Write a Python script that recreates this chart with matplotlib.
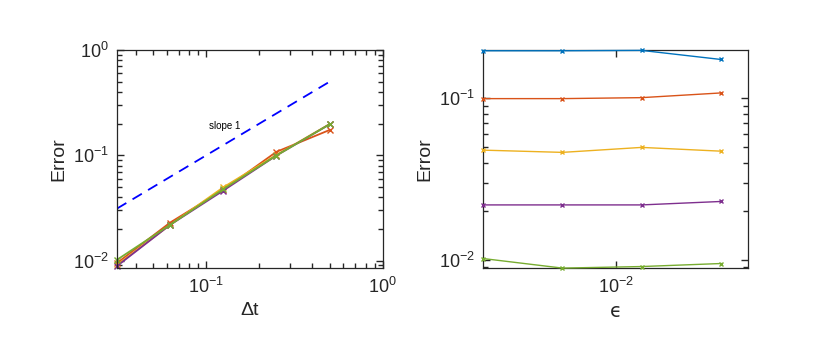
import numpy as np
import matplotlib
matplotlib.use("Agg")
from matplotlib import pyplot as plt

plt.rcParams['font.family'] = ['Liberation Sans', 'DejaVu Sans']
plt.rcParams['mathtext.fontset'] = 'custom'
plt.rcParams['mathtext.rm'] = 'Liberation Sans'
plt.rcParams['mathtext.it'] = 'Liberation Sans:italic'
plt.rcParams['mathtext.default'] = 'regular'
plt.rcParams['xtick.minor.visible'] = True
plt.rcParams['ytick.minor.visible'] = True
plt.rcParams['xtick.minor.size'] = 3.5
plt.rcParams['ytick.minor.size'] = 3.5
plt.rcParams['xtick.minor.width'] = 1.0
plt.rcParams['ytick.minor.width'] = 1.0

# data
dt = [1/2, 1/4, 1/8, 1/16, 1/32]
eps = [0.003125, 0.00625, 0.0125, 0.025]
# rows: dt, columns: eps
err = np.array([
    [0.197, 0.197, 0.198, 0.174],
    [0.0996, 0.0996, 0.101, 0.108],
    [0.0478, 0.0463, 0.0497, 0.0471],
    [0.0219, 0.0219, 0.0219, 0.0230],
    [0.0102, 0.0089, 0.0091, 0.0095],
])
slope_x = [1/32, 1/2]

colors = ['#0072BD', '#D95319', '#EDB120', '#7E2F8E', '#77AC30']
axcol = '#262626'


def minor_locs(lo, hi):
    locs = [k * 10.0**e for e in range(-4, 1) for k in range(2, 10)]
    return [v for v in locs if lo <= v <= hi]


def style(ax):
    ax.tick_params(which='both', direction='in', top=True, right=True,
                   colors=axcol, labelsize=13, pad=6)
    ax.tick_params(which='major', length=5, width=1.0)
    ax.tick_params(which='minor', length=3.5, width=1.0)
    for s in ax.spines.values():
        s.set_color(axcol)
        s.set_linewidth(0.9)


fig = plt.figure(figsize=(8.3, 3.5), dpi=100)
ax1 = fig.add_axes([0.141, 0.234, 0.320, 0.623])
ax2 = fig.add_axes([0.582, 0.234, 0.319, 0.623])

# left: error vs dt, one line per eps (largest eps first)
ax1.set_xscale('log')
ax1.set_yscale('log')
ax1.plot(slope_x, slope_x, '--', color='#0000FF', lw=1.3, dashes=(6, 4))
ax1.text(0.128, 0.19, 'slope 1', fontsize=7, ha='center', va='center')
for k, j in enumerate([3, 2, 1, 0]):
    ax1.plot(dt, err[:, j], '-x', color=colors[k + 1], lw=1.3, ms=4,
             clip_on=False)
ax1.set_xlim(1/32, 1)
ax1.set_ylim(0.0085, 1)
ax1.set_xticks([0.1, 1])
ax1.set_yticks([0.01, 0.1, 1])
ax1.set_xticks(minor_locs(1/32, 1), minor=True)
ax1.set_yticks(minor_locs(0.0085, 1), minor=True)
ax1.set_xticklabels([], minor=True)
ax1.set_yticklabels([], minor=True)
style(ax1)
ax1.set_xlabel('Δt', fontsize=14, color=axcol)
ax1.set_ylabel('Error', fontsize=14, color=axcol)

# right: error vs eps, one line per dt
ax2.set_xscale('log')
ax2.set_yscale('log')
for i in range(len(dt)):
    ax2.plot(eps, err[i], '-x', color=colors[i], lw=1.0, ms=3.5,
             clip_on=False, zorder=3)
ax2.set_xlim(0.003125, 10**-1.5)
ax2.set_ylim(err.min(), 0.199)
ax2.set_xticks([0.01])
ax2.set_xticks([], minor=True)
ax2.set_yticks([0.01, 0.1])
ax2.set_yticks(minor_locs(err.min(), 0.199), minor=True)
ax2.set_yticklabels([], minor=True)
style(ax2)
ax2.set_xlabel('ϵ', fontsize=14, color=axcol,
               family=['DejaVu Sans'])
ax2.set_ylabel('Error', fontsize=14, color=axcol)

fig.savefig('out.png', dpi=100)
